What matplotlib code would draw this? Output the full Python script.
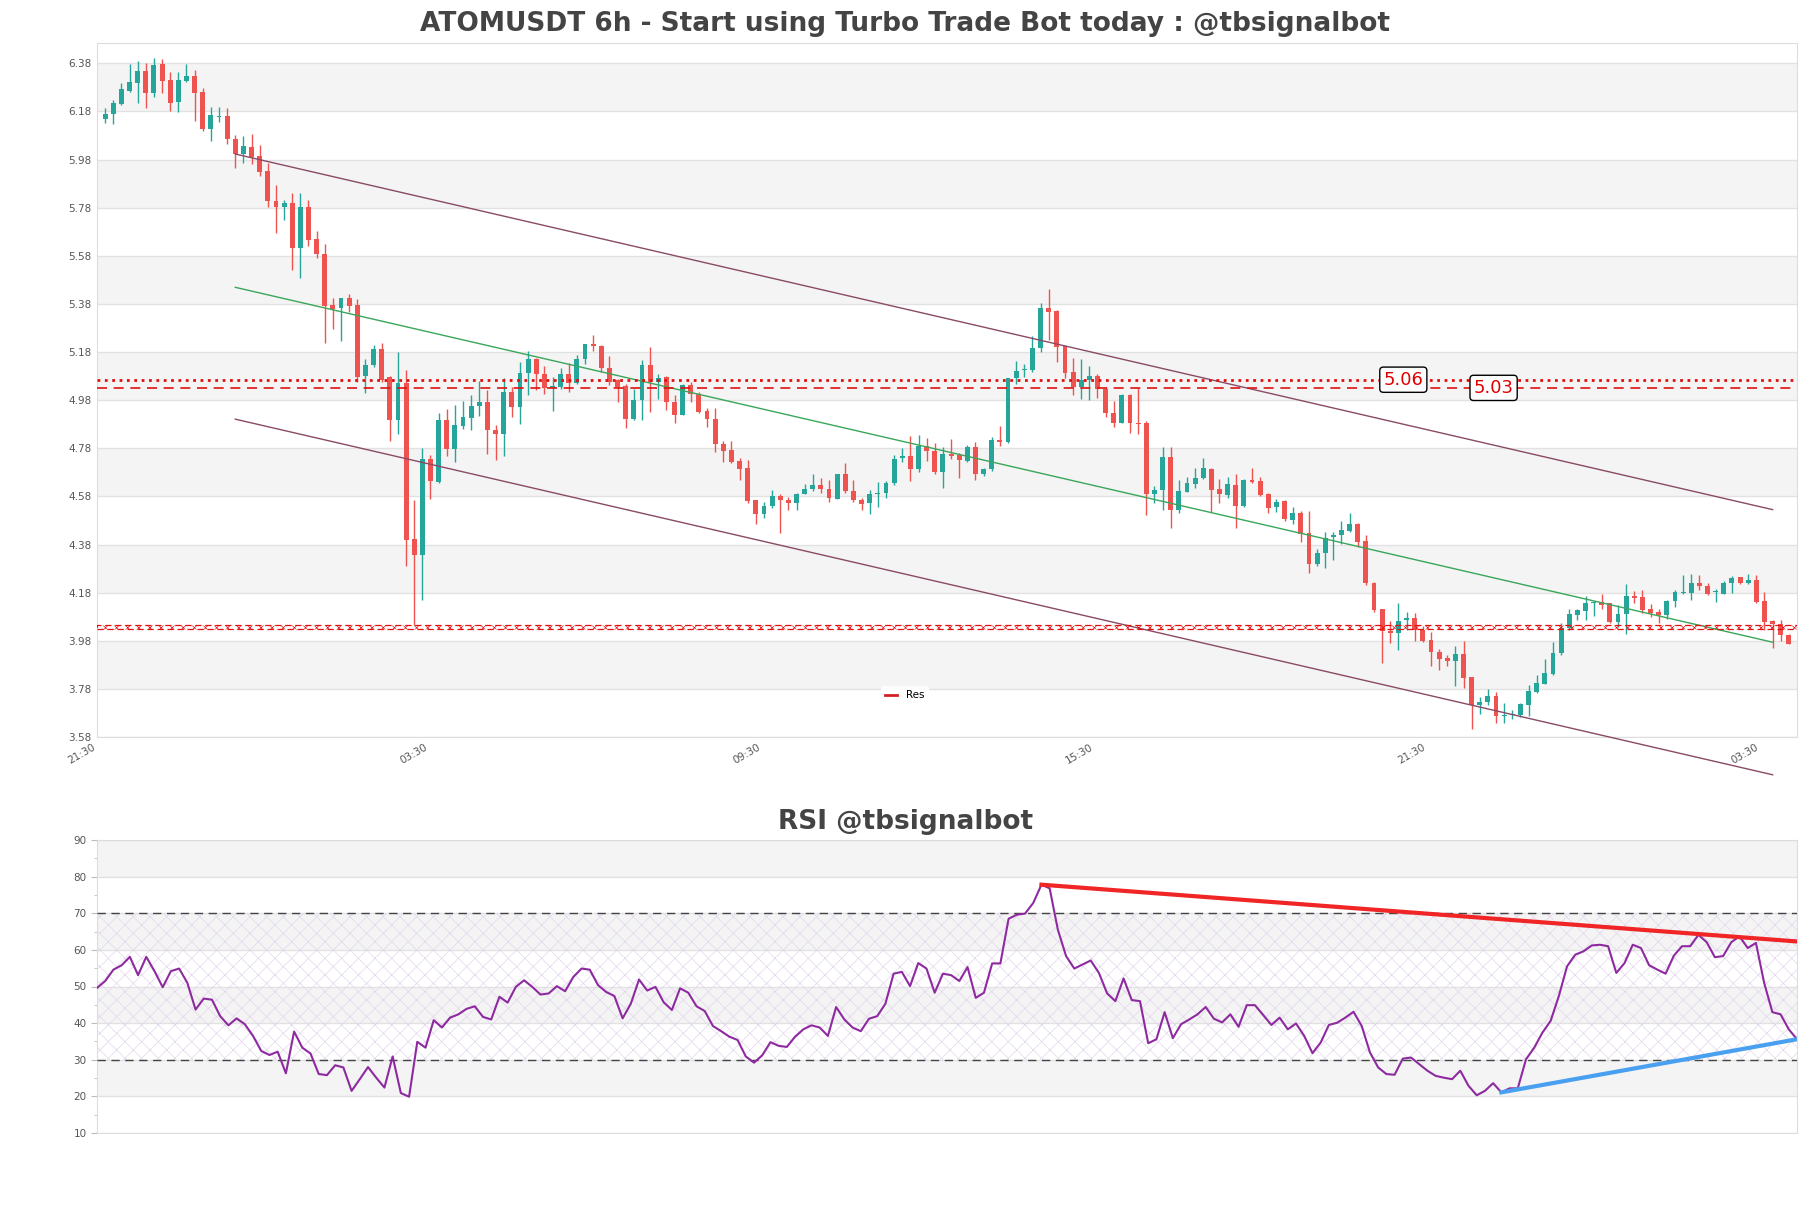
import numpy as np
import matplotlib
matplotlib.use("Agg")
import matplotlib.pyplot as plt
from matplotlib.lines import Line2D

# candles (open, high, low, close)
opens = [6.150, 6.169, 6.211, 6.265, 6.300, 6.348, 6.258, 6.377, 6.311, 6.221,
         6.307, 6.327, 6.262, 6.108, 6.158, 6.161, 6.067, 6.003, 6.033, 5.995,
         5.934, 5.808, 5.784, 5.801, 5.614, 5.784, 5.650, 5.586, 5.375, 5.361,
         5.403, 5.375, 5.081, 5.128, 5.191, 5.075, 4.896, 5.052, 4.403, 4.338,
         4.737, 4.640, 4.899, 4.778, 4.871, 4.906, 4.957, 4.973, 4.857, 4.841,
         5.014, 4.950, 5.093, 5.151, 5.089, 5.031, 5.035, 5.088, 5.052, 5.149,
         5.213, 5.204, 5.114, 5.063, 5.038, 4.900, 4.980, 5.128, 5.056, 5.077,
         4.973, 4.920, 5.045, 5.007, 4.934, 4.900, 4.796, 4.772, 4.726, 4.696,
         4.563, 4.507, 4.539, 4.582, 4.564, 4.554, 4.592, 4.612, 4.626, 4.612,
         4.571, 4.672, 4.603, 4.567, 4.553, 4.592, 4.596, 4.636, 4.740, 4.747,
         4.693, 4.790, 4.768, 4.682, 4.758, 4.751, 4.729, 4.787, 4.675, 4.692,
         4.813, 4.806, 5.070, 5.104, 5.104, 5.195, 5.361, 5.350, 5.204, 5.095,
         5.035, 5.063, 5.080, 5.028, 4.927, 4.886, 5.001, 4.883, 4.883, 4.592,
         4.606, 4.745, 4.525, 4.599, 4.631, 4.658, 4.692, 4.609, 4.585, 4.627,
         4.541, 4.647, 4.643, 4.592, 4.534, 4.561, 4.481, 4.509, 4.428, 4.298,
         4.343, 4.412, 4.419, 4.437, 4.465, 4.394, 4.221, 4.110, 4.021, 4.013,
         4.066, 4.073, 4.024, 3.982, 3.935, 3.907, 3.897, 3.924, 3.830, 3.715,
         3.726, 3.749, 3.666, 3.670, 3.670, 3.712, 3.767, 3.802, 3.841, 3.931,
         4.031, 4.089, 4.104, 4.137, 4.142, 4.135, 4.058, 4.093, 4.167, 4.160,
         4.110, 4.099, 4.089, 4.144, 4.179, 4.179, 4.222, 4.207, 4.183, 4.176,
         4.222, 4.243, 4.218, 4.234, 4.144, 4.061, 4.051, 4.006]
highs = [6.193, 6.228, 6.300, 6.377, 6.390, 6.380, 6.401, 6.398, 6.343, 6.343,
         6.377, 6.352, 6.276, 6.200, 6.200, 6.193, 6.082, 6.078, 6.086, 6.040,
         5.967, 5.874, 5.812, 5.842, 5.842, 5.812, 5.684, 5.629, 5.403, 5.406,
         5.420, 5.399, 5.149, 5.209, 5.216, 5.079, 5.179, 5.104, 4.566, 4.781,
         4.754, 4.927, 4.945, 4.961, 4.975, 5.003, 5.058, 5.024, 4.875, 5.070,
         5.035, 5.137, 5.183, 5.155, 5.124, 5.076, 5.112, 5.135, 5.167, 5.215,
         5.250, 5.208, 5.163, 5.066, 5.047, 5.028, 5.146, 5.199, 5.087, 5.080,
         5.001, 5.049, 5.056, 5.014, 4.949, 4.946, 4.811, 4.811, 4.741, 4.733,
         4.564, 4.557, 4.605, 4.592, 4.578, 4.594, 4.633, 4.672, 4.658, 4.647,
         4.672, 4.719, 4.647, 4.575, 4.608, 4.638, 4.643, 4.751, 4.781, 4.830,
         4.834, 4.824, 4.800, 4.786, 4.818, 4.760, 4.794, 4.804, 4.699, 4.827,
         4.871, 5.074, 5.143, 5.132, 5.246, 5.382, 5.444, 5.355, 5.208, 5.157,
         5.149, 5.121, 5.087, 5.035, 4.976, 5.005, 5.005, 5.031, 4.893, 4.624,
         4.786, 4.786, 4.650, 4.661, 4.696, 4.738, 4.696, 4.652, 4.661, 4.675,
         4.652, 4.700, 4.661, 4.595, 4.571, 4.567, 4.534, 4.520, 4.520, 4.363,
         4.433, 4.433, 4.478, 4.509, 4.468, 4.419, 4.225, 4.110, 4.063, 4.137,
         4.100, 4.096, 4.041, 4.015, 3.944, 3.920, 3.959, 3.978, 3.830, 3.747,
         3.781, 3.767, 3.722, 3.694, 3.722, 3.795, 3.837, 3.906, 3.973, 4.052,
         4.110, 4.114, 4.165, 4.144, 4.173, 4.135, 4.128, 4.215, 4.187, 4.190,
         4.131, 4.114, 4.151, 4.193, 4.252, 4.259, 4.252, 4.218, 4.197, 4.228,
         4.248, 4.246, 4.257, 4.252, 4.183, 4.065, 4.065, 4.010]
lows = [6.130, 6.128, 6.207, 6.259, 6.216, 6.196, 6.241, 6.258, 6.183, 6.179,
        6.304, 6.142, 6.100, 6.058, 6.137, 6.045, 5.943, 5.967, 5.961, 5.912,
        5.781, 5.676, 5.729, 5.523, 5.489, 5.620, 5.572, 5.219, 5.274, 5.225,
        5.345, 5.056, 5.008, 5.116, 5.056, 4.809, 4.841, 4.292, 4.047, 4.151,
        4.571, 4.636, 4.747, 4.722, 4.860, 4.855, 4.913, 4.758, 4.733, 4.747,
        4.909, 4.882, 5.003, 5.024, 5.006, 4.936, 5.028, 5.015, 5.046, 5.132,
        5.185, 5.098, 5.042, 4.973, 4.866, 4.897, 4.897, 4.931, 4.985, 4.938,
        4.886, 4.918, 4.973, 4.927, 4.869, 4.765, 4.724, 4.717, 4.650, 4.553,
        4.467, 4.492, 4.533, 4.428, 4.522, 4.525, 4.588, 4.602, 4.594, 4.557,
        4.568, 4.594, 4.557, 4.525, 4.507, 4.538, 4.572, 4.626, 4.723, 4.643,
        4.682, 4.727, 4.675, 4.613, 4.737, 4.655, 4.724, 4.650, 4.664, 4.686,
        4.789, 4.802, 5.049, 5.077, 5.098, 5.181, 5.229, 5.140, 5.070, 5.001,
        4.983, 4.980, 4.987, 4.911, 4.869, 4.885, 4.844, 4.839, 4.502, 4.554,
        4.522, 4.447, 4.511, 4.597, 4.613, 4.654, 4.516, 4.553, 4.574, 4.447,
        4.536, 4.636, 4.580, 4.509, 4.516, 4.479, 4.467, 4.391, 4.262, 4.290,
        4.284, 4.315, 4.384, 4.433, 4.370, 4.211, 4.100, 3.888, 3.971, 3.943,
        4.024, 3.979, 3.975, 3.877, 3.858, 3.875, 3.790, 3.784, 3.615, 3.677,
        3.712, 3.639, 3.637, 3.656, 3.663, 3.666, 3.763, 3.799, 3.837, 3.920,
        4.024, 4.065, 4.065, 4.082, 4.110, 4.054, 4.038, 4.010, 4.135, 4.096,
        4.079, 4.054, 4.072, 4.121, 4.176, 4.151, 4.193, 4.169, 4.142, 4.173,
        4.179, 4.215, 4.215, 4.135, 4.024, 3.948, 3.979, 3.966]
closes = [6.169, 6.216, 6.273, 6.302, 6.348, 6.258, 6.373, 6.308, 6.216, 6.311,
          6.327, 6.258, 6.106, 6.165, 6.162, 6.067, 6.003, 6.036, 5.992, 5.930,
          5.809, 5.784, 5.801, 5.614, 5.784, 5.645, 5.586, 5.372, 5.357, 5.403,
          5.372, 5.077, 5.126, 5.191, 5.063, 4.896, 5.052, 4.397, 4.338, 4.737,
          4.643, 4.899, 4.778, 4.878, 4.909, 4.957, 4.973, 4.857, 4.839, 5.014,
          4.950, 5.093, 5.151, 5.089, 5.031, 5.040, 5.088, 5.052, 5.149, 5.213,
          5.204, 5.114, 5.056, 5.035, 4.900, 4.980, 5.128, 5.056, 5.074, 4.973,
          4.920, 5.045, 5.007, 4.931, 4.900, 4.796, 4.768, 4.724, 4.693, 4.560,
          4.507, 4.539, 4.582, 4.564, 4.554, 4.592, 4.612, 4.626, 4.612, 4.575,
          4.672, 4.603, 4.567, 4.550, 4.592, 4.596, 4.636, 4.737, 4.747, 4.693,
          4.790, 4.768, 4.682, 4.758, 4.747, 4.731, 4.787, 4.675, 4.692, 4.813,
          4.806, 5.070, 5.102, 5.111, 5.195, 5.361, 5.347, 5.202, 5.091, 5.035,
          5.063, 5.080, 5.028, 4.925, 4.886, 5.001, 4.883, 4.879, 4.592, 4.606,
          4.742, 4.525, 4.602, 4.634, 4.658, 4.696, 4.606, 4.588, 4.631, 4.541,
          4.647, 4.640, 4.585, 4.530, 4.557, 4.484, 4.509, 4.425, 4.301, 4.343,
          4.409, 4.419, 4.440, 4.465, 4.391, 4.218, 4.107, 4.021, 4.013, 4.063,
          4.073, 4.024, 3.979, 3.934, 3.906, 3.896, 3.924, 3.826, 3.712, 3.726,
          3.749, 3.666, 3.670, 3.677, 3.716, 3.770, 3.806, 3.844, 3.931, 4.035,
          4.090, 4.107, 4.137, 4.142, 4.128, 4.058, 4.093, 4.167, 4.158, 4.107,
          4.096, 4.089, 4.144, 4.183, 4.183, 4.222, 4.207, 4.173, 4.186, 4.222,
          4.239, 4.218, 4.234, 4.142, 4.058, 4.051, 4.003, 3.968]

rsi = [49.6, 51.5, 54.6, 55.8, 58.1, 53.1, 58.1, 54.2, 49.8, 54.2,
       54.9, 51.0, 43.7, 46.7, 46.4, 41.9, 39.4, 41.3, 39.7, 36.5,
       32.4, 31.3, 32.2, 26.3, 37.7, 33.3, 31.7, 26.1, 25.8, 28.5,
       27.9, 21.5, 24.7, 28.0, 25.1, 22.4, 30.9, 20.9, 19.9, 34.9,
       33.3, 40.8, 38.8, 41.5, 42.4, 43.9, 44.6, 41.7, 41.0, 47.2,
       45.6, 49.9, 51.7, 49.9, 47.8, 48.1, 50.1, 48.7, 52.6, 54.9,
       54.6, 50.4, 48.5, 47.4, 41.3, 45.3, 51.9, 48.9, 49.9, 45.7,
       43.6, 49.5, 48.3, 44.6, 43.3, 39.2, 37.8, 36.3, 35.4, 30.9,
       29.2, 31.2, 34.8, 33.8, 33.5, 36.3, 38.3, 39.4, 38.8, 36.5,
       44.4, 41.0, 38.8, 37.8, 41.2, 41.9, 45.3, 53.5, 54.0, 50.1,
       56.4, 54.9, 48.3, 53.5, 53.1, 51.5, 55.3, 46.9, 48.3, 56.3,
       56.3, 68.5, 69.6, 69.9, 72.8, 77.8, 76.8, 65.5, 58.3, 54.9,
       56.0, 57.1, 53.7, 48.1, 46.0, 52.2, 46.3, 46.0, 34.5, 35.6,
       43.0, 35.9, 39.7, 41.0, 42.4, 44.4, 41.2, 40.2, 42.4, 39.0,
       44.9, 44.9, 42.2, 39.5, 41.5, 38.3, 39.9, 36.5, 31.8, 34.7,
       39.5, 40.1, 41.5, 43.1, 39.2, 32.0, 27.9, 26.1, 25.9, 30.3,
       30.6, 28.8, 27.0, 25.6, 25.1, 24.7, 27.0, 22.9, 20.3, 21.5,
       23.6, 21.1, 22.2, 22.2, 30.1, 33.3, 37.4, 40.6, 47.4, 55.5,
       58.7, 59.6, 61.2, 61.4, 61.0, 53.7, 56.4, 61.4, 60.5, 55.8,
       54.6, 53.5, 58.4, 61.0, 61.0, 64.1, 62.1, 58.0, 58.3, 62.1,
       63.7, 60.5, 61.9, 51.0, 43.0, 42.4, 38.3, 35.6]

price_ticks = [3.58, 3.78, 3.98, 4.18, 4.38, 4.58, 4.78, 4.98, 5.18, 5.38,
               5.58, 5.78, 5.98, 6.18, 6.38]
time_tick_pos = [-1, 39.9, 80.8, 121.7, 162.6, 203.5]
time_tick_labels = ["21:30", "03:30", "09:30", "15:30", "21:30", "03:30"]
rsi_ticks = [10, 20, 30, 40, 50, 60, 70, 80, 90]

# channel lines: (x0, y0, x1, y1) in candle index / price
channel_upper = (16, 6.003, 205, 4.525)
channel_mid = (16, 5.449, 205, 3.974)
channel_lower = (16, 4.901, 205, 3.423)
res_dotted = 5.065
res_dashed = 5.031
sup_band = (4.029, 4.047)
rsi_bear = (115, 77.8, 207, 62.3)
rsi_bull = (171, 21.1, 207, 35.6)

plt.rcParams['hatch.linewidth'] = 0.5

fig = plt.figure(figsize=(18.11, 12.08), dpi=100)
ax = fig.add_axes([97 / 1811, 1 - 737 / 1208, 1700 / 1811, 694 / 1208])
ax2 = fig.add_axes([97 / 1811, 1 - 1133 / 1208, 1700 / 1811, 293 / 1208])

grey_band = '#f4f4f4'
grid_col = '#e2e2e2'
up_col = '#26a69a'
dn_col = '#ef5350'

# --- price panel ---
ylo, yhi = 3.58, 6.4644
edges = price_ticks + [yhi]
for k in range(len(edges) - 1):
    if k % 2 == 1:
        ax.axhspan(edges[k], edges[k + 1], color=grey_band, lw=0, zorder=0)

x = np.arange(len(opens))
o = np.array(opens)
c = np.array(closes)
cols = [up_col if cc >= oo else dn_col for oo, cc in zip(o, c)]
ax.vlines(x, lows, highs, colors=cols, lw=1, zorder=3)
body = np.maximum(np.abs(c - o), 0.004)
ax.bar(x, body, bottom=np.minimum(o, c), width=0.6, color=cols, lw=0, zorder=4)

ax.plot([channel_upper[0], channel_upper[2]], [channel_upper[1], channel_upper[3]],
        color='#8a4a66', lw=1, zorder=5)
ax.plot([channel_lower[0], channel_lower[2]], [channel_lower[1], channel_lower[3]],
        color='#8a4a66', lw=1, zorder=5, clip_on=False)
ax.plot([channel_mid[0], channel_mid[2]], [channel_mid[1], channel_mid[3]],
        color='#3aa65a', lw=1, zorder=5)

ax.axhline(res_dotted, color='#e01010', ls=':', lw=2, zorder=6)
ax.axhline(res_dashed, color='#e01010', ls=(0, (6, 4)), lw=1.2, zorder=6)
ax.axhspan(sup_band[0], sup_band[1], facecolor='none', edgecolor='#e01010',
           hatch='xxx', lw=0.9, ls=(0, (5, 3)), zorder=6)

box = dict(boxstyle='round,pad=0.2', fc='white', ec='black', lw=1)
ax.text(159.6, res_dotted, '5.06', color='#e00000', fontsize=13,
        ha='center', va='center', bbox=box, zorder=8)
ax.text(170.7, res_dashed, '5.03', color='#e00000', fontsize=13,
        ha='center', va='center', bbox=box, zorder=8)

ax.set_xlim(-1, 208)
ax.set_ylim(ylo, yhi)
ax.set_yticks(price_ticks)
ax.set_yticklabels([f"{t:.2f}" for t in price_ticks])
ax.set_xticks(time_tick_pos)
ax.set_xticklabels(time_tick_labels, rotation=30, ha='right')
ax.tick_params(axis='both', length=0, labelsize=7.5, labelcolor='#555555', pad=4)
ax.grid(axis='y', color=grid_col, lw=1, zorder=1)
ax.set_axisbelow(True)
for s in ax.spines.values():
    s.set_color('#dddddd')

fig.legend(handles=[Line2D([], [], color='#d62020', lw=2)], labels=['Res'],
           loc='center', bbox_to_anchor=(905 / 1811, 1 - 695.5 / 1208),
           fontsize=7.5, frameon=True, edgecolor='none', framealpha=0.9,
           handlelength=1.1, handletextpad=0.9)

# --- RSI panel ---
redges = rsi_ticks
for k in range(len(redges) - 1):
    if k % 2 == 1:
        ax2.axhspan(redges[k], redges[k + 1], color=grey_band, lw=0, zorder=0)
ax2.axhspan(30, 70, facecolor='none', edgecolor='#e3d6ec', hatch='xx', lw=0, zorder=1)
ax2.axhline(70, color='#444444', ls=(0, (6, 4)), lw=1, zorder=3)
ax2.axhline(30, color='#444444', ls=(0, (6, 4)), lw=1, zorder=3)
ax2.plot(np.arange(len(rsi)), rsi, color='#8e2aa0', lw=1.5, zorder=4)
ax2.plot([rsi_bear[0], rsi_bear[2]], [rsi_bear[1], rsi_bear[3]],
         color='#f02525', lw=3, zorder=5)
ax2.plot([rsi_bull[0], rsi_bull[2]], [rsi_bull[1], rsi_bull[3]],
         color='#4aa0f0', lw=3, zorder=5)
ax2.set_xlim(0, len(rsi) - 1)
ax2.set_ylim(10, 90)
ax2.set_yticks(rsi_ticks)
ax2.set_yticks([15, 25, 35, 45, 55, 65, 75, 85], minor=True)
ax2.set_xticks([])
ax2.tick_params(axis='y', which='major', length=4, color='#bbbbbb',
                labelsize=7.5, labelcolor='#555555')
ax2.tick_params(axis='y', which='minor', length=2, color='#bbbbbb')
ax2.grid(axis='y', color=grid_col, lw=1, zorder=1)
ax2.set_axisbelow(True)
for s in ax2.spines.values():
    s.set_color('#dddddd')

fig.text(0.5, 1 - 24 / 1208, "ATOMUSDT 6h - Start using Turbo Trade Bot today : @tbsignalbot",
         ha='center', va='center', fontsize=19, fontweight='bold', color='#444444')
fig.text(0.5, 1 - 822 / 1208, "RSI @tbsignalbot",
         ha='center', va='center', fontsize=19, fontweight='bold', color='#444444')

fig.savefig("out.png", dpi=100)
